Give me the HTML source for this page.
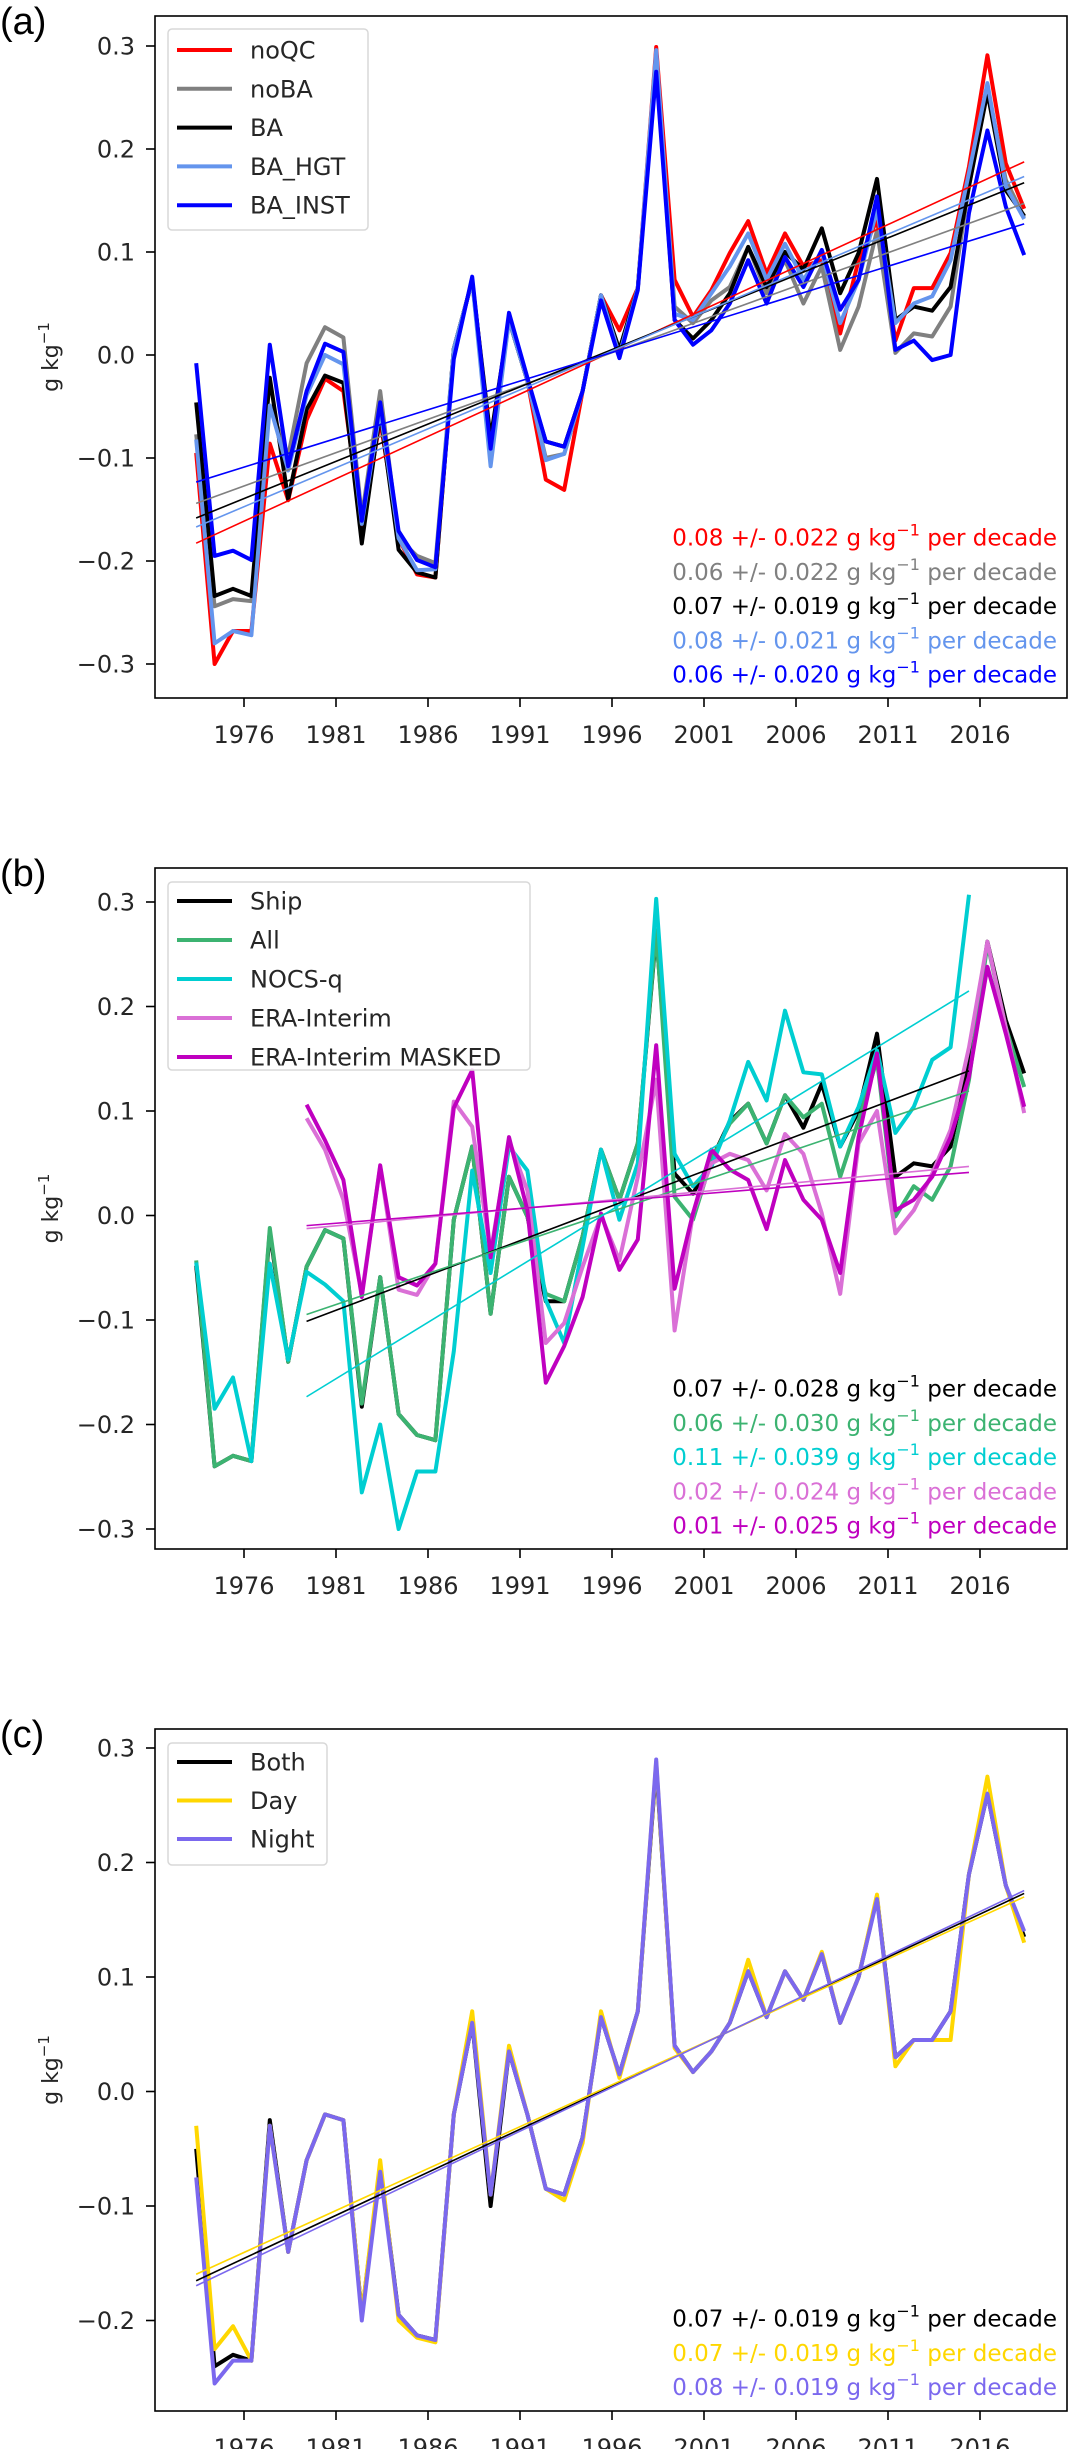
<!DOCTYPE html>
<html><head><meta charset="utf-8">
<style>
body{margin:0;background:#fff;}
svg{display:block;font-family:"DejaVu Sans","Liberation Sans",sans-serif;}
</style></head>
<body>
<svg id="fig" width="1074" height="2449" viewBox="0 0 1074 2449" xmlns="http://www.w3.org/2000/svg"></svg>
<script>
const years = [];
for (let y = 1973; y <= 2018; y++) years.push(y);
const xTickYears = [1976, 1981, 1986, 1991, 1996, 2001, 2006, 2011, 2016];

// Panel (a)
const aNoQC = [-0.095,-0.30,-0.268,-0.268,-0.086,-0.141,-0.063,-0.023,-0.035,-0.168,-0.063,-0.178,-0.213,-0.216,0.006,0.072,-0.084,0.034,-0.025,-0.121,-0.131,-0.035,0.058,0.024,0.065,0.299,0.073,0.037,0.063,0.099,0.13,0.079,0.118,0.086,0.092,0.021,0.092,0.131,0.014,0.065,0.065,0.099,0.183,0.291,0.186,0.142];
const aNoBA = [-0.077,-0.244,-0.237,-0.239,-0.049,-0.098,-0.008,0.027,0.017,-0.157,-0.035,-0.178,-0.195,-0.202,0.006,0.072,-0.098,0.034,-0.025,-0.1,-0.096,-0.035,0.058,0.005,0.065,0.283,0.047,0.031,0.053,0.066,0.105,0.06,0.092,0.05,0.086,0.005,0.047,0.121,0.002,0.021,0.018,0.047,0.164,0.26,0.17,0.134];
const aBA = [-0.046,-0.234,-0.227,-0.234,-0.022,-0.14,-0.053,-0.02,-0.027,-0.183,-0.056,-0.189,-0.211,-0.216,0.006,0.072,-0.081,0.034,-0.025,-0.084,-0.089,-0.035,0.058,0.005,0.065,0.285,0.034,0.016,0.034,0.06,0.105,0.066,0.1,0.083,0.123,0.06,0.099,0.171,0.034,0.047,0.043,0.066,0.164,0.255,0.16,0.135];
const aHGT = [-0.082,-0.28,-0.268,-0.272,-0.049,-0.112,-0.039,0,-0.009,-0.164,-0.053,-0.178,-0.209,-0.208,0.006,0.072,-0.108,0.034,-0.025,-0.102,-0.096,-0.035,0.058,0.0,0.065,0.296,0.04,0.034,0.06,0.086,0.118,0.073,0.108,0.073,0.1,0.031,0.073,0.141,0.031,0.05,0.057,0.092,0.177,0.264,0.164,0.132];
const aINST = [-0.008,-0.195,-0.19,-0.199,0.01,-0.108,-0.035,0.011,0.003,-0.161,-0.046,-0.171,-0.199,-0.206,-0.004,0.076,-0.091,0.041,-0.022,-0.084,-0.089,-0.035,0.053,-0.003,0.063,0.275,0.034,0.01,0.024,0.05,0.092,0.05,0.095,0.066,0.102,0.044,0.073,0.154,0.005,0.014,-0.005,0.0,0.138,0.218,0.144,0.097];
const aTrendText = ["0.08 +/-  0.022","0.06 +/-  0.022","0.07 +/-  0.019","0.08 +/-  0.021","0.06 +/-  0.020"];

// Panel (b)
const bShip = [-0.048,-0.24,-0.23,-0.235,-0.015,-0.14,-0.049,-0.014,-0.022,-0.183,-0.059,-0.19,-0.21,-0.215,-0.004,0.066,-0.094,0.037,-0.001,-0.082,-0.082,-0.02,0.063,0.015,0.069,0.27,0.04,0.021,0.053,0.09,0.107,0.069,0.115,0.084,0.126,0.066,0.1,0.174,0.037,0.05,0.047,0.066,0.146,0.262,0.187,0.136];
const bAll = [-0.043,-0.24,-0.23,-0.235,-0.012,-0.14,-0.049,-0.014,-0.022,-0.18,-0.059,-0.19,-0.21,-0.215,-0.004,0.066,-0.094,0.037,-0.001,-0.075,-0.082,-0.02,0.063,0.015,0.069,0.273,0.018,-0.004,0.053,0.088,0.107,0.069,0.115,0.094,0.107,0.037,0.091,0.149,-0.001,0.028,0.015,0.047,0.13,0.26,0.18,0.123];
const bNOCS = [-0.045,-0.185,-0.155,-0.235,-0.046,-0.138,-0.054,-0.066,-0.082,-0.265,-0.2,-0.30,-0.245,-0.245,-0.13,0.043,-0.055,0.066,0.043,-0.081,-0.122,-0.03,0.063,-0.004,0.05,0.303,0.059,0.028,0.047,0.091,0.147,0.11,0.196,0.137,0.135,0.066,0.104,0.158,0.079,0.104,0.149,0.161,0.307,null,null,null];
const bERA = [null,null,null,null,null,null,0.093,0.063,0.015,-0.075,0.047,-0.071,-0.076,-0.046,0.109,0.085,-0.036,0.072,0.024,-0.122,-0.103,-0.049,0.0,-0.043,0.037,0.13,-0.11,0.002,0.05,0.059,0.053,0.024,0.078,0.059,0.002,-0.075,0.069,0.1,-0.017,0.005,0.04,0.082,0.161,0.262,0.18,0.098];
const bMasked = [null,null,null,null,null,null,0.106,0.072,0.034,-0.078,0.048,-0.059,-0.067,-0.046,0.103,0.139,-0.04,0.075,0.005,-0.16,-0.125,-0.078,0.002,-0.052,-0.023,0.163,-0.07,0.002,0.063,0.044,0.034,-0.013,0.053,0.015,-0.004,-0.055,0.075,0.155,0.005,0.015,0.037,0.075,0.133,0.238,0.174,0.104];
const bTrendText = ["0.07 +/-  0.028","0.06 +/-  0.030","0.11 +/-  0.039","0.02 +/-  0.024","0.01 +/-  0.025"];

// Panel (c)
const cBoth = [-0.05,-0.24,-0.23,-0.235,-0.025,-0.14,-0.06,-0.02,-0.025,-0.195,-0.065,-0.195,-0.213,-0.217,-0.02,0.06,-0.1,0.035,-0.02,-0.085,-0.09,-0.04,0.065,0.015,0.07,0.285,0.04,0.017,0.035,0.06,0.105,0.065,0.105,0.08,0.12,0.06,0.1,0.17,0.03,0.045,0.045,0.07,0.19,0.26,0.18,0.135];
const cDay = [-0.03,-0.225,-0.205,-0.235,-0.03,-0.14,-0.06,-0.02,-0.025,-0.195,-0.06,-0.2,-0.215,-0.219,-0.02,0.07,-0.09,0.04,-0.02,-0.085,-0.095,-0.045,0.07,0.012,0.07,0.288,0.038,0.017,0.035,0.06,0.115,0.065,0.105,0.08,0.122,0.06,0.1,0.172,0.022,0.045,0.045,0.045,0.19,0.275,0.18,0.13];
const cNight = [-0.075,-0.255,-0.235,-0.235,-0.03,-0.14,-0.06,-0.02,-0.025,-0.2,-0.07,-0.195,-0.213,-0.217,-0.02,0.06,-0.09,0.035,-0.02,-0.085,-0.09,-0.04,0.065,0.015,0.07,0.29,0.04,0.017,0.035,0.06,0.105,0.065,0.105,0.08,0.12,0.06,0.1,0.168,0.03,0.045,0.045,0.07,0.19,0.26,0.18,0.14];
const cTrendText = ["0.07 +/-  0.019","0.07 +/-  0.019","0.08 +/-  0.019"];

const NS = "http://www.w3.org/2000/svg";
const svg = document.getElementById('fig');
function mk(tag, attrs, parent) {
  const e = document.createElementNS(NS, tag);
  for (const k in attrs) e.setAttribute(k, attrs[k]);
  (parent || svg).appendChild(e);
  return e;
}
const X0 = 155, X1 = 1067;
function xOf(yr) { return 244 + (yr - 1976 + 0.4) * 18.4; }

function fit(vals, ymin, ymax) {
  let n=0,sx=0,sy=0,sxx=0,sxy=0;
  for (let i=0;i<years.length;i++){
    const v = vals[i]; const yr = years[i];
    if (v===null||v===undefined||yr<ymin||yr>ymax) continue;
    n++;sx+=yr;sy+=v;sxx+=yr*yr;sxy+=yr*v;
  }
  const b=(n*sxy-sx*sy)/(n*sxx-sx*sx); const a=(sy-b*sx)/n;
  return [a,b];
}

function panel(cfg) {
  const g = mk('g', {});
  
  
  const yOf = v => cfg.zeroY - v * cfg.pxPer;
  // panel letter
  const lt = mk('text', {x: 0, y: cfg.top + 18, 'font-size': 38, 'font-family': '"Liberation Sans",sans-serif', fill: '#000'}, g);
  lt.textContent = cfg.letter;
  
  
  // y ticks
  cfg.yTicks.forEach(v => {
    const y = yOf(v);
    mk('line', {x1: X0-9, x2: X0, y1: y, y2: y, stroke: '#000', 'stroke-width': 1.6}, g);
    const t = mk('text', {x: 135, y: y+8.5, 'font-size': 24, 'text-anchor': 'end', fill: '#262626'}, g);
    t.textContent = (v < 0 ? '\u2212' : '') + Math.abs(v).toFixed(1);
    
    
  });
  xTickYears.forEach(yr => {
    const x = xOf(yr - 0.4);
    mk('line', {x1: x, x2: x, y1: cfg.bottom, y2: cfg.bottom+9, stroke: '#000', 'stroke-width': 1.6}, g);
    const t = mk('text', {x: x, y: cfg.bottom+45, 'font-size': 24, 'text-anchor': 'middle', fill: '#262626'}, g);
    t.textContent = String(yr);
    
    
  });
  // y label
  const cy = (cfg.top + cfg.bottom) / 2;
  const yl = mk('text', {x: 0, y: 0, 'font-size': 22, 'text-anchor': 'middle', fill: '#262626', transform: `translate(58,${cy}) rotate(-90)`}, g);
  yl.innerHTML = 'g kg<tspan dy="-9" font-size="15">\u22121</tspan>';
  
  
  // clip
  const cid = 'clip-' + cfg.letter.replace(/\W/g,'');
  const cp = mk('clipPath', {id: cid}, g);
  mk('rect', {x: X0, y: cfg.top, width: X1-X0, height: cfg.bottom-cfg.top}, cp);
  const plot = mk('g', {'clip-path': `url(#${cid})`}, g);
  // series
  cfg.series.forEach(s => {
    let d = '', pen = false;
    for (let i=0;i<years.length;i++){
      const v = s.data[i];
      if (v===null||v===undefined){pen=false;continue;}
      d += (pen?'L':'M') + xOf(years[i]).toFixed(1) + ',' + yOf(v).toFixed(1);
      pen = true;
    }
    const p = mk('path', {d: d, fill: 'none', stroke: s.color, 'stroke-width': 4, 'stroke-linejoin': 'round'}, plot);
    
    
  });
  cfg.series.forEach(s => {
    const [a,b] = fit(s.data, cfg.tr0, cfg.tr1);
    let f0 = cfg.tr0, f1 = cfg.tr1;
    for (let i=0;i<years.length;i++){ if (s.data[i]!==null && years[i]>=cfg.tr0){f0=Math.max(f0,years[i]);break;} }
    for (let i=years.length-1;i>=0;i--){ if (s.data[i]!==null && years[i]<=cfg.tr1){f1=Math.min(f1,years[i]);break;} }
    const l = mk('line', {x1: xOf(f0), y1: yOf(a+b*f0), x2: xOf(f1), y2: yOf(a+b*f1), stroke: s.color, 'stroke-width': 1.6}, plot);
    
    
  });
  // frame
  const fr = mk('rect', {x: X0, y: cfg.top, width: X1-X0, height: cfg.bottom-cfg.top, fill: 'none', stroke: '#000', 'stroke-width': 1.6}, g);
  
  
  // legend
  const L = cfg.legend;
  const lg = mk('g', {}, g);
  
  
  mk('rect', {x: L.x, y: L.y, width: L.w, height: L.h, rx: 4, fill: '#fff', 'fill-opacity': 0.85, stroke: '#d8d8d8', 'stroke-width': 1.5}, lg);
  cfg.series.forEach((s, i) => {
    const yy = L.first + i * L.step;
    mk('line', {x1: L.x+9, x2: L.x+64, y1: yy, y2: yy, stroke: s.color, 'stroke-width': 4}, lg);
    const t = mk('text', {x: L.x+82, y: yy+8.5, 'font-size': 24, fill: '#262626'}, lg);
    t.textContent = s.label;
    
    
  });
  // trend texts
  cfg.series.forEach((s, i) => {
    const yy = cfg.textY0 + i * 34.3;
    const t = mk('text', {x: 1057, y: yy+8.5, 'font-size': 23, 'text-anchor': 'end', fill: s.color}, g);
    t.innerHTML = cfg.trendText[i] + ' g kg<tspan dy="-10" font-size="16">\u22121</tspan><tspan dy="10"> per decade</tspan>';
    
    
  });
}

panel({name:'panel-a', letter:'(a)', top:16, bottom:698, zeroY:355, pxPer:1030,
  yTicks:[-0.3,-0.2,-0.1,0,0.1,0.2,0.3], tr0:1973, tr1:2018, textY0:537, trendText:aTrendText,
  legend:{x:168,y:29,w:200,h:201,first:50,step:38.8},
  series:[{key:'noqc',label:'noQC',color:'#ff0000',data:aNoQC},
          {key:'noba',label:'noBA',color:'#808080',data:aNoBA},
          {key:'ba',label:'BA',color:'#000000',data:aBA},
          {key:'ba-hgt',label:'BA_HGT',color:'#6495ed',data:aHGT},
          {key:'ba-inst',label:'BA_INST',color:'#0000ff',data:aINST}]});

panel({name:'panel-b', letter:'(b)', top:868, bottom:1549, zeroY:1215.5, pxPer:1045,
  yTicks:[-0.3,-0.2,-0.1,0,0.1,0.2,0.3], tr0:1979, tr1:2015, textY0:1388, trendText:bTrendText,
  legend:{x:168,y:882,w:362,h:188,first:901,step:39},
  series:[{key:'ship',label:'Ship',color:'#000000',data:bShip},
          {key:'all',label:'All',color:'#3cb371',data:bAll},
          {key:'nocs-q',label:'NOCS-q',color:'#00ced1',data:bNOCS},
          {key:'era-interim',label:'ERA-Interim',color:'#da70d6',data:bERA},
          {key:'era-interim-masked',label:'ERA-Interim MASKED',color:'#bf00bf',data:bMasked}]});

panel({name:'panel-c', letter:'(c)', top:1729, bottom:2411, zeroY:2091.5, pxPer:1145,
  yTicks:[-0.2,-0.1,0,0.1,0.2,0.3], tr0:1973, tr1:2018, textY0:2318, trendText:cTrendText,
  legend:{x:168,y:1743,w:159,h:122,first:1762,step:38.5},
  series:[{key:'both',label:'Both',color:'#000000',data:cBoth},
          {key:'day',label:'Day',color:'#ffd700',data:cDay},
          {key:'night',label:'Night',color:'#7b68ee',data:cNight}]});
</script>
</body></html>
